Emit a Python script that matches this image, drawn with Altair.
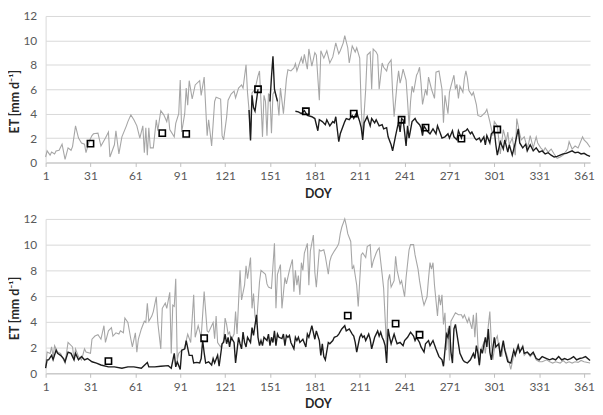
import altair as alt
import pandas as pd

# ---------------- data (DOY, ET in mm/d) ----------------
top_gray = [
(1,0.45),(2,0.95),(4,0.6),(5,0.85),(7,0.7),(8,0.95),(10,1.0),(12,1.5),(14,0.25),(16,1.2),
(18,1.0),(19,1.3),(21,3.0),(23,2.0),(25,1.6),(27,1.5),(28,0.8),(30,1.7),(32,2.2),(33,2.35),
(36,2.4),(38,1.35),(41,2.0),(43,2.5),(44,0.45),(47,1.45),(48,2.6),(50,0.7),(52,2.1),(55,3.0),
(56,3.35),(58,3.9),(60,3.5),(62,3.0),(64,2.0),(66,3.0),(67,0.8),(68,2.85),(69,0.6),(70,2.85),
(71,1.2),(73,1.2),(75,3.5),(76,2.6),(78,4.25),(80,3.9),(82,3.35),(83,4.0),(84,2.7),(87,2.1),
(88,3.2),(90,4.0),(91,6.75),(92,2.5),(94,4.0),(95,6.1),(96,4.7),(97,6.7),(99,5.2),(101,6.35),
(104,6.7),(105,5.5),(107,7.0),(109,2.2),(110,3.5),(112,1.35),(114,5.0),(115,5.35),(118,5.2),(119,2.2),
(120,1.85),(122,3.7),(123,5.1),(125,5.6),(127,5.85),(128,5.3),(130,6.1),(132,6.35),(133,6.1),(135,8.0),
(136,5.7),(137,4.3),(138,1.95),(139,5.7),(141,6.0),(143,7.1),(144,7.5),(145,5.0),(146,2.1),(147,5.5),
(148,5.0),(149,2.2),(150,5.6),(151,5.5),(152,2.4),(153,5.6),(154,5.85),(155,5.5),(156,5.1),(157,3.85),
(158,6.1),(160,4.0),(162,6.85),(163,7.6),(165,7.5),(167,7.75),(168,8.1),(169,7.5),(172,8.6),(173,8.1),
(174,8.85),(175,8.25),(176,7.65),(177,9.3),(179,7.9),(181,9.0),(182,8.8),(184,5.1),(185,9.15),(187,8.55),
(189,9.15),(191,8.15),(193,8.65),(195,9.8),(197,8.9),(198,9.15),(200,9.8),(201,10.4),(203,9.4),(204,8.15),
(206,9.55),(208,9.05),(209,9.4),(211,8.55),(212,4.5),(213,2.2),(215,6.0),(216,8.8),(218,9.05),(219,6.0),
(220,9.3),(222,9.05),(223,8.8),(224,6.0),(226,8.15),(227,7.8),(229,7.5),(230,8.05),(232,8.4),(233,5.75),
(234,3.75),(236,6.5),(237,7.5),(238,6.5),(239,7.0),(240,7.65),(242,6.75),(243,5.0),(244,3.0),(245,5.0),
(246,6.25),(247,5.75),(249,7.15),(250,7.4),(251,7.8),(252,6.5),(253,4.75),(255,6.0),(256,5.5),(257,7.0),
(259,6.0),(261,5.25),(262,7.4),(264,7.5),(265,6.75),(266,6.0),(267,3.25),(268,5.5),(270,4.0),(271,5.75),
(272,6.25),(274,7.15),(275,6.0),(276,6.4),(277,5.25),(278,6.25),(280,5.75),(281,6.9),(282,7.5),(283,6.9),
(284,5.9),(286,5.5),(287,5.75),(289,4.75),(290,3.85),(292,3.75),(295,4.1),(296,4.35),(298,3.35),(300,2.2),
(301,3.35),(303,3.0),(305,0.7),(307,2.7),(309,1.7),(310,2.5),(311,1.45),(313,2.0),(315,0.6),(316,3.6),
(318,2.35),(319,1.85),(321,2.1),(323,1.2),(324,1.6),(325,2.2),(327,1.2),(329,2.1),(330,1.6),(332,1.2),
(334,0.95),(335,1.2),(337,0.85),(339,1.1),(341,0.7),(343,0.35),(345,0.45),(347,0.6),(350,1.1),(351,1.7),
(353,1.1),(355,1.35),(357,1.2),(360,2.1),(361,1.85),(363,1.6),(365,1.25),
]
top_black_a = [(137,4.3),(138,1.8),(139,5.5),(140,4.5),(141,4.2),(143,6.0)]
top_black_b = [(151,5.0),(152,7.0),(153,8.7),(154,6.0),(155,5.5),(156,5.0)]
top_black_c = [
(168,4.2),(170,4.15),(172,4.0),(174,4.25),(176,3.85),(179,3.75),(181,3.6),(183,2.6),(184,3.5),(186,3.35),
(188,3.1),(189,3.5),(191,3.0),(193,3.35),(194,3.25),(195,3.75),(197,1.7),(198,2.35),(201,3.35),(202,3.6),
(204,3.5),(206,3.85),(207,3.6),(209,4.1),(211,3.35),(212,2.85),(213,1.85),(214,3.25),(216,3.75),(218,3.0),
(219,3.6),(221,3.25),(222,3.5),(224,3.0),(226,3.1),(227,2.75),(229,2.85),(230,2.1),(232,1.45),(233,0.95),
(235,2.2),(237,3.35),(238,2.5),(239,3.6),(240,3.5),(241,2.5),(242,1.35),(243,3.0),(244,2.0),(246,3.35),
(248,3.6),(249,3.35),(251,3.1),(252,2.85),(253,2.2),(254,3.0),(256,2.6),(258,2.35),(260,2.75),(262,2.35),
(263,3.0),(265,2.35),(266,2.0),(268,2.1),(270,2.35),(271,2.0),(273,2.6),(274,2.1),(276,1.85),(277,2.6),
(279,2.0),(280,2.5),(282,2.6),(283,2.75),(285,2.35),(286,2.5),(288,2.0),(289,1.85),(291,2.0),(292,1.7),
(294,2.1),(295,1.45),(296,2.2),(298,1.6),(299,2.35),(301,2.6),(302,1.45),(303,0.6),(305,1.7),(307,1.1),
(308,1.85),(310,0.85),(311,1.45),(313,0.6),(315,1.6),(317,2.75),(318,1.6),(320,1.2),(322,1.5),(323,0.95),
(325,1.45),(327,0.95),(329,1.2),(331,0.85),(333,0.95),(335,0.7),(337,0.8),(339,0.6),(341,0.45),(343,0.5),
(345,0.6),(347,0.7),(349,0.75),(351,0.85),(353,0.95),(355,0.8),(357,0.85),(359,0.7),(361,0.75),(363,0.6),
(365,0.5),
]
top_squares = [(31,1.55),(79,2.4),(95,2.35),(143,6.0),(175,4.2),(207,4.0),(239,3.5),(255,2.85),(279,1.95),(303,2.7)]

bot_gray = [
(1,0.55),(2,1.65),(4,1.55),(5,2.05),(6,1.3),(7,2.15),(9,1.65),(11,1.55),(14,0.8),(16,2.4),
(19,2.05),(20,1.05),(21,1.9),(23,1.3),(25,1.05),(27,1.9),(28,1.65),(31,1.55),(32,2.65),(34,2.9),
(36,3.0),(38,2.65),(40,3.7),(41,2.4),(43,3.3),(45,3.55),(46,2.9),(48,3.15),(50,3.05),(51,3.3),
(53,3.15),(54,4.3),(56,3.95),(58,2.65),(59,2.05),(61,3.15),(62,1.65),(63,2.65),(65,3.45),(67,4.05),
(68,3.95),(69,5.45),(70,4.05),(72,4.45),(73,4.8),(75,5.95),(76,3.95),(78,1.9),(79,5.05),(81,5.45),
(82,5.05),(84,6.3),(85,1.55),(86,5.3),(87,5.2),(88,7.35),(89,1.05),(90,1.55),(92,1.8),(94,1.9),
(95,2.55),(96,3.05),(98,2.4),(100,6.1),(101,2.8),(103,3.7),(105,2.8),(107,6.35),(109,3.3),(110,3.2),
(112,3.7),(113,3.95),(114,2.7),(115,4.45),(116,2.4),(118,2.05),(120,2.55),(121,4.3),(122,3.8),(123,3.05),
(124,3.2),(125,2.55),(127,3.05),(128,4.8),(129,3.05),(131,8.0),(132,5.7),(134,6.85),(135,8.35),(136,7.35),
(138,9.0),(139,5.05),(140,6.2),(141,4.45),(142,3.8),(144,7.1),(145,8.0),(148,7.7),(149,6.95),(150,6.7),
(152,6.6),(154,10.1),(155,5.05),(156,7.7),(158,8.45),(159,5.05),(161,7.45),(162,6.95),(164,8.0),(166,8.85),
(167,6.35),(168,8.0),(169,6.85),(170,7.6),(171,6.1),(172,8.6),(173,8.0),(174,9.35),(176,10.1),(177,6.85),
(178,9.5),(180,10.75),(181,7.85),(182,6.7),(184,9.6),(185,9.5),(187,9.6),(188,9.1),(190,7.7),(191,8.7),
(192,9.1),(194,9.5),(196,9.85),(197,10.1),(198,10.85),(199,11.35),(201,12.0),(202,11.5),(203,10.85),(205,10.25),
(206,8.1),(207,8.35),(209,6.85),(210,5.2),(212,9.2),(213,9.35),(215,9.0),(216,9.85),(218,10.0),(219,8.2),
(220,8.7),(222,9.35),(223,9.6),(224,9.75),(226,7.7),(227,6.6),(229,1.9),(230,7.2),(231,7.7),(232,6.7),
(234,7.2),(235,9.1),(236,8.0),(238,6.95),(239,7.2),(241,5.95),(242,7.45),(244,9.6),(245,10.0),(247,10.0),
(248,9.2),(250,8.1),(251,7.2),(253,5.8),(254,5.3),(256,5.95),(257,7.35),(258,8.6),(259,8.1),(260,8.6),
(261,6.85),(263,4.45),(264,6.1),(265,5.3),(266,6.1),(267,3.8),(268,4.7),(269,1.8),(270,3.5),(271,1.0),
(272,4.05),(275,4.7),(277,4.55),(279,4.55),(280,4.3),(281,4.55),(283,3.95),(284,4.3),(286,3.45),(287,4.55),
(288,2.8),(289,4.7),(290,2.3),(291,0.55),(292,1.8),(294,2.4),(295,1.55),(298,4.8),(299,2.4),(300,1.05),
(302,2.65),(303,2.9),(304,2.05),(306,1.3),(307,2.3),(309,1.55),(311,0.8),(312,0.3),(314,1.4),(315,1.55),
(317,2.3),(318,1.65),(320,2.15),(321,1.4),(323,1.65),(325,1.3),(327,1.55),(329,1.05),(331,0.9),(333,0.9),
(336,1.05),(338,0.9),(340,0.8),(342,0.9),(345,0.8),(347,1.0),(349,0.8),(351,0.9),(353,0.8),(355,0.9),
(357,0.85),(359,1.0),(361,0.9),(365,0.8),
]
bot_black = [
(1,0.4),(2,1.05),(3,1.05),(5,1.4),(6,1.05),(8,1.8),(9,1.55),(11,1.4),(13,1.15),(14,0.9),
(16,1.65),(18,1.55),(20,1.05),(21,1.55),(23,1.05),(25,1.3),(27,1.05),(29,1.15),(32,0.9),(35,0.8),
(38,0.65),(43,0.5),(47,0.5),(52,0.4),(56,0.5),(60,0.5),(65,0.4),(69,0.85),(70,0.5),(74,0.5),
(78,0.55),(83,0.6),(85,0.4),(87,1.55),(88,0.5),(89,0.9),(91,0.3),(92,1.8),(93,1.85),(94,1.9),
(95,2.55),(97,1.4),(99,1.4),(100,0.8),(102,0.85),(104,0.8),(105,1.15),(106,2.55),(107,1.6),(108,0.8),
(110,0.9),(112,0.65),(113,1.15),(114,0.8),(116,1.4),(117,0.55),(119,2.3),(120,2.4),(121,3.05),(122,2.3),
(123,2.8),(124,2.05),(125,2.8),(127,2.4),(128,0.8),(129,1.8),(130,2.8),(131,2.3),(132,1.9),(133,3.2),
(134,2.4),(135,2.05),(136,2.8),(138,2.4),(139,3.55),(140,2.95),(142,4.55),(143,2.8),(144,2.15),(145,2.55),
(146,2.15),(147,2.8),(149,2.55),(150,3.05),(151,2.15),(152,2.8),(153,2.4),(154,3.3),(155,2.15),(156,3.05),
(157,2.8),(159,2.7),(160,3.05),(161,2.15),(162,2.95),(163,2.8),(164,2.95),(165,2.4),(167,1.9),(168,2.8),
(169,2.55),(170,2.8),(171,2.4),(173,2.65),(175,2.05),(176,3.05),(177,2.8),(179,3.7),(181,2.65),(182,3.3),
(184,2.55),(185,1.4),(186,2.3),(187,1.3),(188,1.05),(190,2.4),(191,2.3),(193,2.55),(194,2.8),(196,2.9),
(197,3.05),(199,3.45),(201,3.7),(202,3.3),(204,3.45),(206,3.05),(207,2.9),(208,2.4),(209,1.65),(211,2.8),
(212,3.05),(213,2.8),(214,2.9),(215,2.55),(217,3.05),(218,2.65),(219,1.9),(221,2.8),(222,3.05),(223,3.3),
(224,2.9),(225,3.2),(226,2.8),(227,2.55),(228,2.15),(229,0.8),(230,3.45),(231,2.8),(232,2.3),(234,3.05),
(235,2.65),(236,2.3),(238,2.4),(240,2.15),(241,2.55),(243,2.8),(245,3.2),(247,2.9),(248,2.55),(249,2.8),
(251,2.4),(252,2.05),(254,1.65),(255,2.3),(257,2.55),(258,2.15),(260,2.55),(262,1.9),(264,1.3),(266,1.05),
(267,0.55),(269,3.05),(270,2.8),(271,3.7),(272,1.65),(273,0.8),(274,3.45),(275,3.8),(276,3.05),(278,1.55),
(280,1.05),(281,0.9),(283,0.8),(285,1.05),(287,1.55),(288,1.15),(289,2.15),(290,1.55),(291,0.65),(292,1.9),
(293,1.55),(295,2.8),(296,2.05),(297,3.45),(298,1.65),(299,1.05),(301,2.8),(302,2.05),(304,2.3),(305,1.3),
(307,2.55),(308,1.8),(310,0.9),(312,0.8),(314,1.8),(315,1.4),(317,2.15),(318,1.65),(320,2.05),(321,1.55),
(323,1.65),(325,1.4),(327,1.65),(329,1.15),(331,1.05),(333,1.3),(336,1.15),(338,1.05),(340,1.15),(342,1.05),
(344,1.3),(346,1.05),(348,1.15),(350,1.05),(352,1.15),(354,1.3),(356,1.05),(358,1.15),(360,1.2),(362,1.3),
(365,1.0),
]
bot_squares = [(43,0.95),(107,2.73),(203,4.49),(235,3.86),(251,3.0)]

x_ticks = [1, 31, 61, 91, 121, 151, 181, 211, 241, 271, 301, 331, 361]
y_ticks = [0, 2, 4, 6, 8, 10, 12]

FONT = "Lato"


def frame(pairs, seg=0):
    return pd.DataFrame({"doy": [p[0] for p in pairs], "et": [p[1] for p in pairs], "seg": seg})


def panel(gray, black_segs, squares, h):
    gdf = frame(gray)
    bdf = pd.concat([frame(s, i) for i, s in enumerate(black_segs)], ignore_index=True)
    sdf = frame(squares)
    x = alt.X("doy:Q",
              scale=alt.Scale(domain=[1, 365], nice=False, zero=False),
              axis=alt.Axis(values=x_ticks, title="DOY", grid=False, tickSize=4,
                            tickColor="#bfbfbf", domainColor="#bfbfbf",
                            labelColor="#595959", labelFontSize=12, labelFont=FONT,
                            labelPadding=4, labelFlush=False,
                            titleFont=FONT, titleFontSize=12.5, titleFontWeight="bold",
                            titleColor="#262626", titlePadding=6))
    y = alt.Y("et:Q",
              scale=alt.Scale(domain=[0, 12], nice=False),
              axis=alt.Axis(values=y_ticks, title="ET [mm d⁻¹]", grid=True, gridColor="#d9d9d9",
                            ticks=False, domainColor="#d9d9d9",
                            labelColor="#595959", labelFontSize=12, labelFont=FONT,
                            labelPadding=9,
                            titleFont=FONT, titleFontSize=12.5, titleFontWeight="bold",
                            titleColor="#262626", titlePadding=1, titleY=round(h * 0.58)))
    g = alt.Chart(gdf).mark_line(color="#a6a6a6", strokeWidth=1.1).encode(x=x, y=y)
    b = alt.Chart(bdf).mark_line(color="#1c1c1c", strokeWidth=1.4).encode(x=x, y=y, detail="seg:N")
    s = alt.Chart(sdf).mark_point(shape="square", size=40, filled=False, stroke="#000000",
                                  strokeWidth=1.6, fill="white", fillOpacity=0).encode(x=x, y=y)
    return alt.layer(g, b, s).properties(width=550, height=h)


top = panel(top_gray, [top_black_a, top_black_b, top_black_c], top_squares, 148)
bottom = panel(bot_gray, [bot_black], bot_squares, 156)

chart = alt.vconcat(top, bottom, spacing=13).configure(
    padding={"top": 0, "left": 1, "right": 0, "bottom": 0}
).configure_view(stroke=None)

chart.save("out.html", embed_options={"renderer": "svg", "actions": False})
